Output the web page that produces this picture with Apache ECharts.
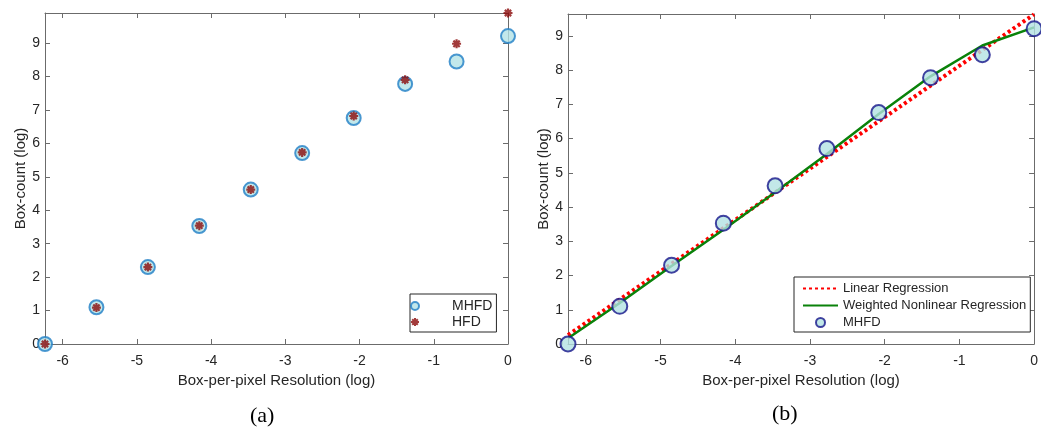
<!DOCTYPE html>
<html>
<head>
<meta charset="utf-8">
<script src="https://cdn.jsdelivr.net/npm/echarts@6/dist/echarts.min.js"></script>
<style>
  html, body { margin: 0; padding: 0; background: #fff; }
  #chart { width: 1041px; height: 433px; }
</style>
</head>
<body>
<div id="chart"></div>
<script>
// log box-per-pixel resolution (x) for both panels
const resolution = [-6.238, -5.545, -4.852, -4.159, -3.466, -2.773, -2.079, -1.386, -0.693, 0];
// box-count (log)
const mhfd = [0, 1.10, 2.30, 3.53, 4.62, 5.71, 6.76, 7.78, 8.45, 9.21];
const hfd = [0, 1.09, 2.30, 3.54, 4.62, 5.73, 6.82, 7.90, 8.98, 9.90];
// fits in panel (b)
const linearX = [-6.238, 0];
const linearY = [0.26, 9.63];
const nonlinearY = [0.17, 1.20, 2.28, 3.34, 4.43, 5.55, 6.72, 7.82, 8.72, 9.25];

const pair = (xs, ys) => xs.map((x, i) => [x, ys[i]]);

const chart = echarts.init(document.getElementById('chart'));

const axisCol = '#6b6b6b';
const textCol = '#262626';
const font = 'Liberation Sans';
const intOnly = v => (Math.abs(v - Math.round(v)) < 1e-6 ? String(Math.round(v)) : '');

// asterisk marker (strokes only)
const star = 'path://M0,-5L0,5M-5,0L5,0M-3.5,-3.5L3.5,3.5M-3.5,3.5L3.5,-3.5';

const line = { show: true, onZero: false, lineStyle: { color: axisCol, width: 1 } };
const tick = { show: true, inside: true, length: 5, lineStyle: { color: axisCol } };

function xAxes(grid, name) {
  return [
    {
      type: 'value', gridIndex: grid, min: -6.238, max: 0, position: 'bottom',
      name: name, nameLocation: 'middle', nameGap: 27,
      nameTextStyle: { color: textCol, fontSize: 15, fontFamily: font },
      axisLine: line, axisTick: tick,
      axisLabel: { color: textCol, fontSize: 14, fontFamily: font, margin: 10, formatter: intOnly },
      splitLine: { show: false }
    },
    {
      type: 'value', gridIndex: grid, min: -6.238, max: 0, position: 'top',
      axisLine: line, axisTick: tick, axisLabel: { show: false }, splitLine: { show: false }
    }
  ];
}

function yAxes(grid, max) {
  return [
    {
      type: 'value', gridIndex: grid, min: 0, max: max, interval: 1, position: 'left',
      name: 'Box-count (log)', nameLocation: 'middle', nameGap: 15, nameRotate: 90,
      nameTextStyle: { color: textCol, fontSize: 15, fontFamily: font },
      axisLine: line, axisTick: tick,
      axisLabel: { color: textCol, fontSize: 14, fontFamily: font, margin: 5, formatter: intOnly },
      splitLine: { show: false }
    },
    {
      type: 'value', gridIndex: grid, min: 0, max: max, interval: 1, position: 'right',
      axisLine: line, axisTick: tick, axisLabel: { show: false }, splitLine: { show: false }
    }
  ];
}

const option = {
  backgroundColor: '#ffffff',
  animation: false,
  grid: [
    { left: 45, top: 13, width: 463, height: 331 },
    { left: 568, top: 14, width: 470, height: 330 }
  ],
  xAxis: [...xAxes(0, 'Box-per-pixel Resolution (log)'), ...xAxes(1, 'Box-per-pixel Resolution (log)')],
  yAxis: [...yAxes(0, 9.9), ...yAxes(1, 9.64)],
  legend: [
    {
      orient: 'vertical', left: 410, top: 294,
      padding: [5, 4, 3, 0], itemGap: 2, itemWidth: 20, itemHeight: 8,
      backgroundColor: '#fff', borderColor: '#262626', borderWidth: 1, borderRadius: 0,
      textStyle: { color: textCol, fontSize: 14, fontFamily: font, padding: [0, 0, 0, 22] },
      data: ['MHFD', 'HFD']
    },
    {
      orient: 'vertical', left: 794, top: 277,
      padding: [5, 4, 3, 8], itemGap: 4, itemWidth: 35, itemHeight: 9,
      backgroundColor: '#fff', borderColor: '#262626', borderWidth: 1, borderRadius: 0,
      textStyle: { color: textCol, fontSize: 13, fontFamily: font },
      data: [
        { name: 'Linear Regression', itemStyle: { opacity: 0 } },
        { name: 'Weighted Nonlinear Regression', itemStyle: { opacity: 0 } },
        'MHFD '
      ]
    }
  ],
  graphic: [
    { type: 'text', left: 250, top: 405, style: { text: '(a)', fill: '#000', font: '22px "Liberation Serif"' } },
    { type: 'text', left: 772, top: 403, style: { text: '(b)', fill: '#000', font: '22px "Liberation Serif"' } }
  ],
  series: [
    {
      name: 'MHFD', type: 'scatter', xAxisIndex: 0, yAxisIndex: 0, clip: false,
      symbol: 'circle', symbolSize: 14,
      itemStyle: { color: '#b3e2e6', borderColor: '#1f7ec6', borderWidth: 2 },
      data: pair(resolution, mhfd), z: 3
    },
    {
      name: 'HFD', type: 'scatter', xAxisIndex: 0, yAxisIndex: 0, clip: false,
      symbol: star, symbolSize: 9,
      itemStyle: { color: '#8b0a0a', borderColor: '#8b0a0a', borderWidth: 2.2 },
      data: pair(resolution, hfd), z: 4
    },
    {
      name: 'Linear Regression', type: 'line', xAxisIndex: 2, yAxisIndex: 2,
      symbol: 'none', showSymbol: false,
      lineStyle: { color: '#ff0000', width: 4, type: [3, 3] },
      itemStyle: { color: '#ff0000' },
      data: pair(linearX, linearY), z: 2
    },
    {
      name: 'Weighted Nonlinear Regression', type: 'line', xAxisIndex: 2, yAxisIndex: 2,
      symbol: 'none', showSymbol: false,
      lineStyle: { color: '#0a820a', width: 2.5 },
      itemStyle: { color: '#0a820a' },
      data: pair(resolution, nonlinearY), z: 3
    },
    {
      name: 'MHFD ', type: 'scatter', xAxisIndex: 2, yAxisIndex: 2, clip: false,
      symbol: 'circle', symbolSize: 15,
      itemStyle: { color: '#b3e2e2', borderColor: '#14148a', borderWidth: 2 },
      data: pair(resolution, mhfd), z: 4
    }
  ]
};

chart.setOption(option);
</script>
</body>
</html>
